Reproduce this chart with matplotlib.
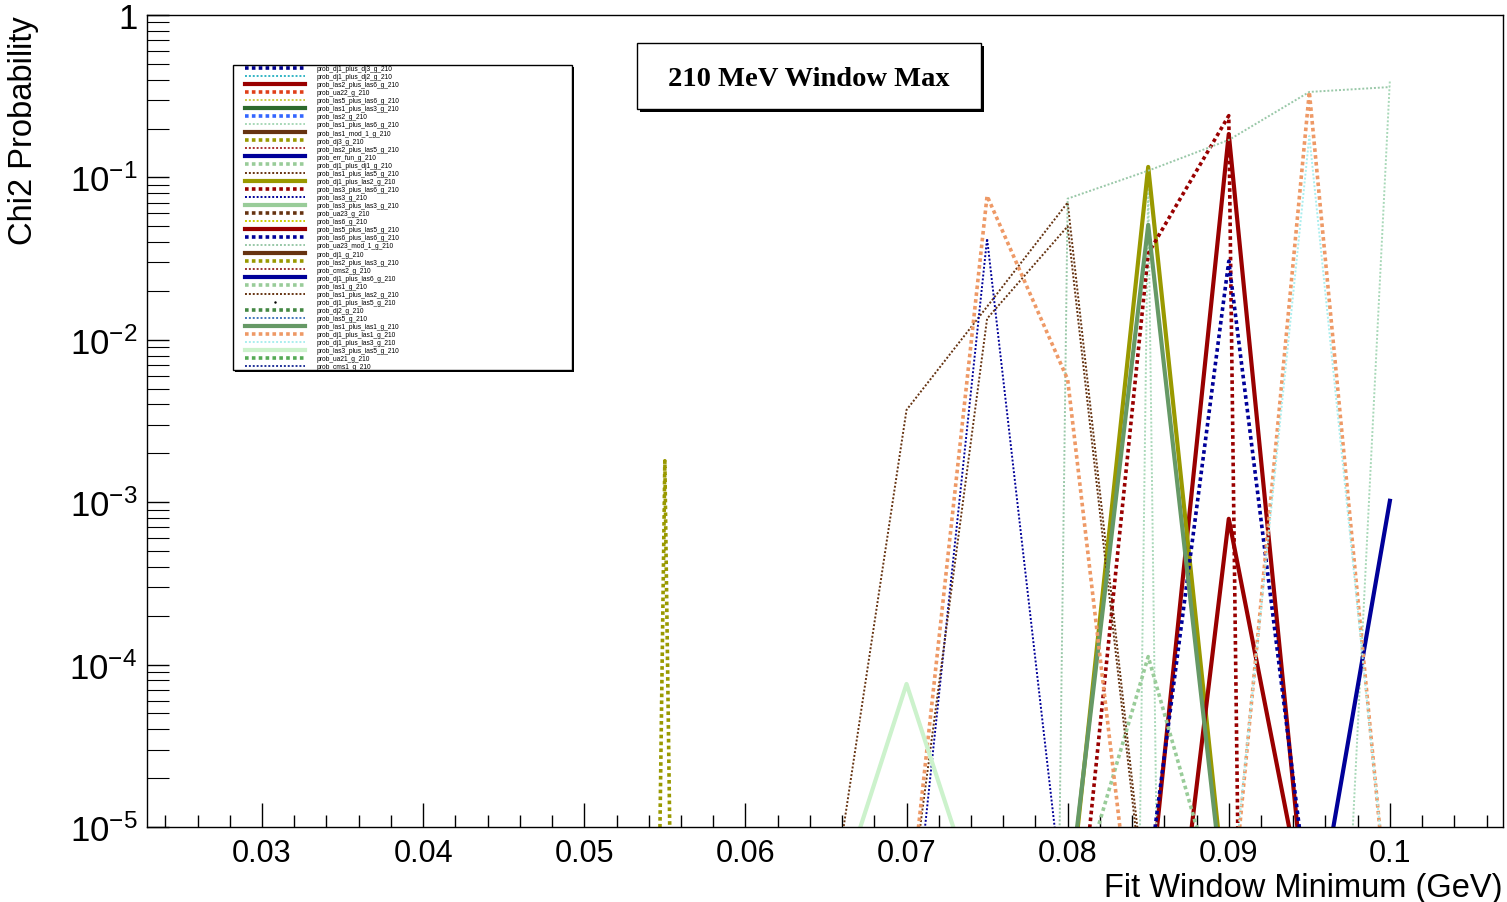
import matplotlib
matplotlib.use("Agg")
import matplotlib.pyplot as plt
from matplotlib.ticker import MultipleLocator, FixedLocator, FixedFormatter, LogLocator, NullFormatter
from matplotlib.patches import Rectangle

W, H = 1507, 903
SANS = ['Liberation Sans', 'DejaVu Sans']
plt.rcParams['font.family'] = SANS
plt.rcParams['mathtext.fontset'] = 'custom'
plt.rcParams['mathtext.rm'] = 'Liberation Sans'
plt.rcParams['mathtext.it'] = 'Liberation Sans:italic'
plt.rcParams['mathtext.bf'] = 'Liberation Sans:bold'

# fit window minimum (GeV)
fit_min = [0.050, 0.055, 0.060, 0.065, 0.070, 0.075, 0.080, 0.085, 0.090, 0.095, 0.100]
Z = 1e-40  # far below the plotted range

off = [Z, Z, Z, Z, Z, Z, Z, Z, Z, Z, Z]
prob_las2_plus_las3 = [Z, 1.8e-3, Z, Z, Z, Z, Z, Z, Z, Z, Z]
prob_las1_plus_las5 = [Z, Z, Z, 1.9e-6, 3.7e-3, 1.6e-2, 7.0e-2, 2.5e-6, Z, Z, Z]
prob_las1_plus_las2 = [Z, Z, Z, Z, 2.3e-6, 1.35e-2, 5.0e-2, 2.0e-6, Z, Z, Z]
prob_las3 = [Z, Z, Z, Z, 8.3e-7, 4.2e-2, 2.0e-6, Z, Z, Z, Z]
prob_dj1_plus_las1 = [Z, Z, Z, Z, 2.1e-6, 7.7e-2, 5.7e-3, 3.2e-7, 1.95e-6, 3.36e-1, 2.2e-6]
prob_dj1_plus_dj2 = [Z, Z, Z, Z, Z, Z, Z, Z, 2.5e-6, 1.8e-1, 2.5e-6]
prob_las2_plus_las6 = [Z, Z, Z, Z, Z, Z, Z, 2.95e-6, 1.85e-1, 1.8e-6, Z]
prob_las5_plus_las5 = [Z, Z, Z, Z, Z, Z, Z, 5.9e-8, 7.9e-4, 2.3e-6, Z]
prob_las3_plus_las6 = [Z, Z, Z, Z, Z, Z, 4.6e-7, 3.4e-2, 2.4e-1, Z, Z]
prob_las6_plus_las6 = [Z, Z, Z, Z, Z, Z, Z, 4.7e-6, 3.05e-2, 3.2e-6, Z]
prob_dj1_plus_las2 = [Z, Z, Z, Z, Z, Z, 2.6e-6, 1.16e-1, 2.3e-6, Z, Z]
prob_las1_plus_las1 = [Z, Z, Z, Z, Z, Z, 3.2e-6, 5.1e-2, 2.0e-6, Z, Z]
prob_ua23_mod_1 = [Z, Z, Z, Z, Z, Z, 7.4e-2, 1.1e-1, 1.7e-1, 3.36e-1, 3.6e-1]
prob_las1_plus_las6 = [Z, Z, Z, Z, Z, Z, Z, 9.1e-2, Z, 4.0e-11, 4.0e-1]
prob_las1 = [Z, Z, Z, Z, Z, Z, 2.3e-6, 1.12e-4, 2.0e-6, Z, Z]
prob_las3_plus_las5 = [Z, Z, Z, 2.2e-6, 7.6e-5, 2.3e-6, Z, Z, Z, Z, Z]
prob_dj1_plus_las6 = [Z, Z, Z, Z, Z, Z, Z, Z, Z, 1.4e-6, 1.02e-3]

labels = [
    "prob_dj1_plus_dj3_g_210", "prob_dj1_plus_dj2_g_210", "prob_las2_plus_las6_g_210",
    "prob_ua22_g_210", "prob_las5_plus_las6_g_210", "prob_las1_plus_las3_g_210",
    "prob_las2_g_210", "prob_las1_plus_las6_g_210", "prob_las1_mod_1_g_210",
    "prob_dj3_g_210", "prob_las2_plus_las5_g_210", "prob_err_fun_g_210",
    "prob_dj1_plus_dj1_g_210", "prob_las1_plus_las5_g_210", "prob_dj1_plus_las2_g_210",
    "prob_las3_plus_las6_g_210", "prob_las3_g_210", "prob_las3_plus_las3_g_210",
    "prob_ua23_g_210", "prob_las6_g_210", "prob_las5_plus_las5_g_210",
    "prob_las6_plus_las6_g_210", "prob_ua23_mod_1_g_210", "prob_dj1_g_210",
    "prob_las2_plus_las3_g_210", "prob_cms2_g_210", "prob_dj1_plus_las6_g_210",
    "prob_las1_g_210", "prob_las1_plus_las2_g_210", "prob_dj1_plus_las5_g_210",
    "prob_dj2_g_210", "prob_las5_g_210", "prob_las1_plus_las1_g_210",
    "prob_dj1_plus_las1_g_210", "prob_dj1_plus_las3_g_210", "prob_las3_plus_las5_g_210",
    "prob_ua21_g_210", "prob_cms1_g_210",
]
colors = [
    '#00008b', '#33b5c5', '#990000', '#e0401a', '#cccc44', '#2d6a2d',
    '#3366ff', '#a8d8b8', '#663311', '#999900', '#aa3333', '#000099',
    '#99cc99', '#663311', '#999900', '#990000', '#000099', '#99cc99',
    '#663311', '#cccc00', '#990000', '#000099', '#99c8a8', '#663311',
    '#999900', '#993333', '#000099', '#99cc99', '#663311', '#000000',
    '#448844', '#4477bb', '#669966', '#ee9966', '#aaeeee', '#ccf2cc',
    '#55aa55', '#223399',
]
values = [
    off, off, prob_las2_plus_las6, off, off, off,
    off, prob_las1_plus_las6, off, off, off, off,
    off, prob_las1_plus_las5, prob_dj1_plus_las2, prob_las3_plus_las6, prob_las3, off,
    off, off, prob_las5_plus_las5, prob_las6_plus_las6, prob_ua23_mod_1, off,
    prob_las2_plus_las3, off, prob_dj1_plus_las6, prob_las1, prob_las1_plus_las2, off,
    off, off, prob_las1_plus_las1, prob_dj1_plus_las1, prob_dj1_plus_dj2, prob_las3_plus_las5,
    off, off,
]

fig = plt.figure(figsize=(W / 100, H / 100), dpi=100)
ax = fig.add_axes([147 / W, 1 - 828 / H, (1503 - 147) / W, (828 - 16) / H])

handles = []
for i, (lab, col, val) in enumerate(zip(labels, colors, values)):
    kind = i % 3
    if lab == "prob_dj1_plus_las5_g_210":
        h, = ax.plot(fit_min, val, ls='none', marker='.', ms=1.5, color=col, label=lab)
    elif kind == 0:   # thick dotted
        h, = ax.plot(fit_min, val, color=col, lw=2.6, dashes=(1.0, 0.9), label=lab)
    elif kind == 1:   # fine dotted
        h, = ax.plot(fit_min, val, color=col, lw=1.4, dashes=(1.0, 1.0), label=lab)
    else:             # solid
        h, = ax.plot(fit_min, val, color=col, lw=3.0, label=lab)
    handles.append(h)

ax.set_yscale('log')
ax.set_xlim(0.02286, 0.10702)
ax.set_ylim(1e-5, 1)

ax.xaxis.set_major_locator(MultipleLocator(0.01))
ax.xaxis.set_minor_locator(MultipleLocator(0.002))
ax.xaxis.set_major_formatter(plt.FuncFormatter(lambda v, _: f"{v:g}"))

ax.yaxis.set_major_locator(FixedLocator([1e-5, 1e-4, 1e-3, 1e-2, 1e-1, 1]))
ax.yaxis.set_major_formatter(FixedFormatter([r'$10^{-5}$', r'$10^{-4}$', r'$10^{-3}$',
                                             r'$10^{-2}$', r'$10^{-1}$', r'$1$']))
ax.yaxis.set_minor_locator(LogLocator(base=10, subs=range(2, 10), numticks=20))
ax.yaxis.set_minor_formatter(NullFormatter())

ax.tick_params(axis='x', which='major', direction='in', length=17, width=1, labelsize=22, pad=8)
ax.tick_params(axis='x', which='minor', direction='in', length=8.6, width=1)
ax.tick_params(axis='y', which='major', direction='in', length=16, width=1, labelsize=25, pad=7)
ax.tick_params(axis='y', which='minor', direction='in', length=16, width=0.8)
for s in ax.spines.values():
    s.set_linewidth(1)

ax.set_xlabel('Fit Window Minimum (GeV)', fontsize=23.5, loc='right')
ax.xaxis.set_label_coords(1.0, -0.055)
ax.set_ylabel('Chi2 Probability', fontsize=23.5, loc='top')
ax.yaxis.set_label_coords(-0.08, 1.0)

# legend frame with shadow
fig.add_artist(Rectangle((235 / W, 1 - 373 / H), 339 / W, 305 / H, transform=fig.transFigure,
                         facecolor='black', edgecolor='none', zorder=4))
fig.add_artist(Rectangle((233 / W, 1 - 371 / H), 339 / W, 305 / H, transform=fig.transFigure,
                         facecolor='white', edgecolor='black', lw=1, zorder=5))
leg = fig.legend(handles=handles, loc='upper left', bbox_to_anchor=(245 / W, 1 - 66 / H),
                 bbox_transform=fig.transFigure, frameon=False, borderpad=0, borderaxespad=0,
                 prop={'family': 'Liberation Sans', 'size': 4.8}, handlelength=9.0,
                 handletextpad=1.8, labelspacing=0.16)
leg.set_zorder(6)

# title pave with shadow
fig.add_artist(Rectangle((640 / W, 1 - 113 / H), 344 / W, 66 / H, transform=fig.transFigure,
                         facecolor='black', edgecolor='none', zorder=4))
fig.add_artist(Rectangle((637 / W, 1 - 110 / H), 344 / W, 66 / H, transform=fig.transFigure,
                         facecolor='white', edgecolor='black', lw=1, zorder=5))
fig.text(809 / W, 1 - 79 / H, '210 MeV Window Max', ha='center', va='center',
         fontsize=20.5, fontweight='bold', family='Liberation Serif', zorder=6)

fig.savefig('out.png', dpi=100)
